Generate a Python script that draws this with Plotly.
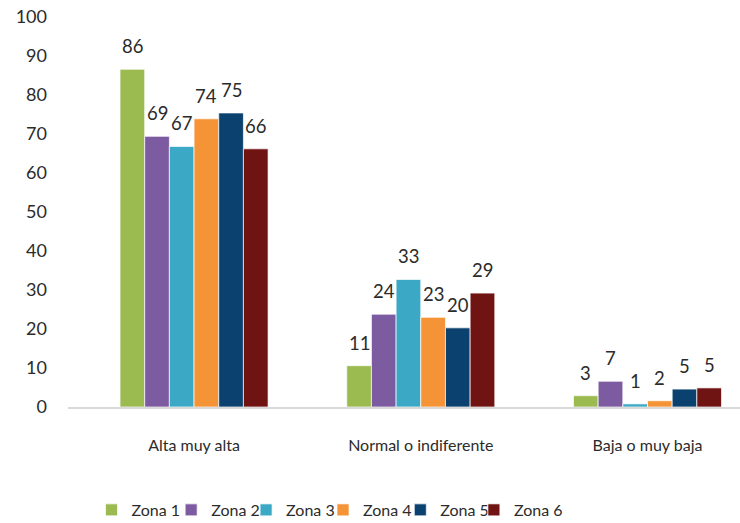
import plotly.graph_objects as go

categories = ["Alta muy alta", "Normal o indiferente", "Baja o muy baja"]
zones = ["Zona 1", "Zona 2", "Zona 3", "Zona 4", "Zona 5", "Zona 6"]
zona1 = [86.6, 10.6, 2.9]
zona2 = [69.4, 23.8, 6.6]
zona3 = [66.8, 32.7, 0.8]
zona4 = [73.9, 23.0, 1.6]
zona5 = [75.4, 20.3, 4.6]
zona6 = [66.2, 29.2, 4.9]
labels1 = [86, 11, 3]
labels2 = [69, 24, 7]
labels3 = [67, 33, 1]
labels4 = [74, 23, 2]
labels5 = [75, 20, 5]
labels6 = [66, 29, 5]
y_ticks = [0, 10, 20, 30, 40, 50, 60, 70, 80, 90, 100]

series = [zona1, zona2, zona3, zona4, zona5, zona6]
labels = [labels1, labels2, labels3, labels4, labels5, labels6]
colors = ["#9BBB50", "#7D5BA0", "#3BA9C5", "#F59337", "#0A416E", "#6F1412"]
legend_x = [0.035, 0.1535, 0.265, 0.3795, 0.4945, 0.604]

FONT = "Lato, 'Open Sans', sans-serif"
TXT = "#2b2b2b"
bargap = 0.347
n = len(series)
bw = (1 - bargap) / n

fig = go.Figure()
legend_layout = {}
for i, (name, vals, col) in enumerate(zip(zones, series, colors)):
    lg = "legend" if i == 0 else f"legend{i + 1}"
    fig.add_trace(go.Bar(
        name=name, x=categories, y=vals, legend=lg,
        marker=dict(color=col, line=dict(color="rgba(255,255,255,0.7)", width=1)),
    ))
    legend_layout[lg] = dict(
        orientation="h", x=legend_x[i], xanchor="left", y=-0.264, yanchor="middle",
        font=dict(family=FONT, size=16, color=TXT), itemwidth=30,
        bgcolor="rgba(0,0,0,0)", borderwidth=0,
    )

annotations = []
for i, (vals, labs) in enumerate(zip(series, labels)):
    for j, (v, lab) in enumerate(zip(vals, labs)):
        annotations.append(dict(
            x=j + (i - (n - 1) / 2) * bw, y=v, xref="x", yref="y",
            text=str(lab), showarrow=False, yanchor="middle", yshift=23,
            font=dict(family=FONT, size=18.5, color=TXT),
        ))

fig.update_layout(
    width=740, height=523,
    margin=dict(l=68, r=0, t=17, b=116, autoexpand=False),
    paper_bgcolor="white", plot_bgcolor="white",
    barmode="group", bargap=bargap, bargroupgap=0,
    font=dict(family=FONT, size=16, color=TXT),
    showlegend=True,
    annotations=annotations,
    xaxis=dict(range=[-0.556, 2.408], showgrid=False, showline=True,
               linecolor="#D9D9D9", linewidth=1.5, ticks="", ticklabelstandoff=23,
               tickfont=dict(family=FONT, size=16, color=TXT)),
    yaxis=dict(range=[0, 100], tickvals=y_ticks, showgrid=False, zeroline=False,
               showline=False, ticks="", ticklabelstandoff=20,
               ticklabeloverflow="allow",
               tickfont=dict(family=FONT, size=18, color=TXT)),
    **legend_layout,
)

# remove the default page margin so the figure fills the window exactly
fig.write_html("out.html", config={"displayModeBar": False},
               post_script="document.body.style.margin='0';")
